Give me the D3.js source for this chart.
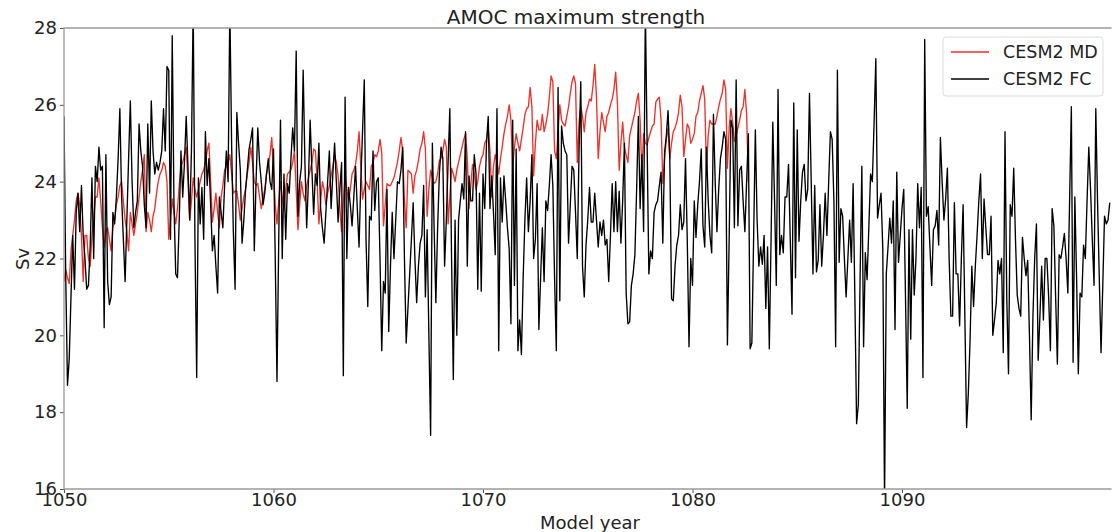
<!DOCTYPE html>
<html>
<head>
<meta charset="utf-8">
<script src="https://cdn.jsdelivr.net/npm/d3@7"></script>
<style>
  body { margin: 0; background: #fff; }
  svg text { font-family: "DejaVu Sans", sans-serif; fill: #222; }
</style>
</head>
<body>
<div id="chart"></div>
<script>
// monthly AMOC max strength (Sv), first month = 1050.0
var start_year = 1050;

var cesm2_md = [
  21.4, 21.7, 21.5, 21.35, 22.2, 22.6, 23.0, 23.5, 23.7, 23.4, 22.6, 21.4,
  22.6, 22.6, 22.0, 21.8, 22.6, 23.0, 23.6, 23.6, 24.1, 23.5, 22.8, 22.3,
  22.7, 22.8, 22.5, 22.2, 22.8, 23.0, 23.4, 23.6, 23.9, 24.0, 23.5, 23.0,
  22.7, 22.2, 23.2, 22.9, 22.6, 22.9, 23.2, 23.6, 24.0, 24.3, 24.7, 22.7,
  23.2, 23.0, 22.7, 23.1, 23.3, 23.7, 24.0, 24.2, 24.3, 24.5, 24.4, 24.0,
  22.5, 23.0, 23.55, 23.2, 22.9, 23.3, 23.9, 24.4, 24.5, 24.7, 24.9, 24.0,
  23.0, 23.5, 24.1, 23.8, 23.6, 23.8, 24.0, 24.2, 24.3, 24.5, 24.8, 25.0,
  24.0, 22.95, 23.3, 23.7, 23.2, 22.8, 23.6, 23.9, 24.3, 24.4, 24.5, 24.7,
  24.2, 23.7, 23.75, 23.75, 23.4, 23.0, 23.3, 23.6, 23.8, 24.2, 24.5, 24.9,
  24.5, 24.0, 23.9, 23.95, 23.6, 23.3, 23.6, 23.8, 24.2, 24.4, 24.7, 25.15,
  24.3, 23.4, 22.9, 23.5, 24.0, 23.6, 23.25, 23.8, 24.2, 24.25, 24.3, 24.5,
  24.8, 23.8, 22.75, 23.4, 24.0, 23.7, 23.5, 23.9, 24.1, 24.3, 24.5, 24.85,
  24.8, 24.0, 22.9, 23.5, 24.0, 23.8, 23.4, 23.7, 23.9, 24.15, 24.4, 24.7,
  24.5, 24.15, 23.3, 22.7, 23.5, 24.15, 23.8, 23.5, 23.8, 24.2, 24.3, 24.45,
  24.8, 25.3, 24.4, 23.55, 23.8, 24.0, 23.9, 23.8, 24.4, 24.5, 24.7, 24.65,
  24.8, 25.1, 24.75, 22.85, 23.4, 23.95, 23.9, 23.9, 24.0, 24.1, 24.3, 24.5,
  24.8, 25.15, 24.8, 23.5, 22.8, 24.3, 24.25, 24.2, 23.7, 24.15, 24.3, 24.55,
  24.85, 25.0, 25.3, 24.85, 23.1, 23.8, 24.3, 24.1, 23.95, 24.0, 24.2, 24.55,
  24.6, 24.8, 25.1, 24.9, 22.9, 23.6, 24.35, 24.2, 24.0, 24.3, 24.5, 24.7,
  24.9, 25.1, 25.25, 24.6, 23.3, 23.9, 24.45, 24.2, 23.8, 24.0, 24.4, 24.6,
  24.7, 25.0, 25.1, 25.4, 24.8, 23.6, 24.4, 24.7, 24.5, 24.2, 24.6, 24.9,
  25.25, 25.5, 25.7, 26.0, 25.6, 24.4, 24.9, 25.25, 25.0, 24.8, 25.1, 25.4,
  25.75, 25.9, 25.95, 26.45, 25.95, 24.15, 25.0, 25.6, 25.35, 25.35, 25.75, 25.3,
  25.5, 25.75, 26.2, 26.75, 26.6, 24.8, 24.6, 25.3, 26.0, 25.6, 25.5, 25.45,
  25.7, 25.95, 26.3, 26.6, 26.75, 26.55, 24.5, 25.55, 25.95, 25.7, 25.3, 25.8,
  25.95, 26.15, 26.1, 26.5, 27.05, 26.2, 24.6, 25.3, 25.8, 25.55, 25.3, 25.7,
  25.8, 26.0, 26.15, 26.4, 26.85, 26.05, 24.3, 25.0, 25.55, 24.9, 24.7, 24.5,
  25.2, 25.4, 25.6, 25.8, 26.1, 26.3, 25.6, 24.25, 25.25, 25.0, 24.95, 25.15,
  25.3, 25.45, 25.5, 26.07, 26.15, 26.2, 25.6, 23.95, 24.6, 25.1, 25.4, 24.6,
  25.0, 25.3, 25.4, 25.55, 25.8, 26.25, 25.95, 24.65, 25.1, 25.5, 25.4, 25.0,
  25.1, 25.25, 25.7, 25.8, 26.1, 26.3, 26.5, 26.15, 24.3, 25.2, 25.6, 25.5,
  25.5, 25.5, 25.7, 25.95, 26.15, 26.3, 26.65, 26.4, 24.35, 25.4, 25.9, 25.55,
  25.05, 25.2, 25.4, 25.6, 25.85, 25.95, 26.4, 25.75, 24.0
];

var cesm2_fc = [
  25.7, 21.5, 18.7, 19.4, 21.0, 22.6, 21.2, 23.2, 23.7, 22.7, 23.9, 22.6,
  22.0, 21.2, 21.3, 22.3, 24.1, 22.0, 24.4, 24.0, 24.9, 24.3, 24.4, 20.2,
  24.7, 21.4, 20.8, 21.0, 23.2, 22.9, 23.6, 24.6, 25.9, 23.6, 22.5, 21.4,
  23.0, 24.6, 26.1, 24.0, 22.8, 23.2, 23.5, 25.5, 24.8, 24.4, 23.4, 22.8,
  25.5, 23.7, 26.1, 24.8, 24.2, 24.5, 24.3, 24.5, 24.8, 25.9, 24.8, 27.0,
  26.9, 22.5, 27.8, 23.4, 21.6, 21.5, 23.0, 24.8, 23.6, 24.5, 25.7, 24.4,
  23.0, 24.8, 28.6, 22.5, 18.9, 24.1, 22.9, 23.85, 22.5, 25.3, 23.9, 24.6,
  23.4, 22.2, 22.6, 21.8, 21.1, 23.6, 23.2, 22.8, 23.9, 24.8, 24.0, 28.6,
  25.0, 22.7, 21.2, 25.8, 25.0, 24.3, 22.4, 23.0, 23.8, 24.3, 24.85, 25.1,
  25.4, 22.2, 24.0, 25.4, 24.5, 24.0, 23.4, 23.7, 24.2, 24.6, 24.0, 23.8,
  24.85, 22.0, 18.8, 22.5, 25.6, 22.0, 24.2, 22.5, 23.95, 23.7, 24.6, 25.4,
  24.8, 27.4, 23.1, 24.0, 24.4, 26.9, 24.5, 22.8, 24.0, 25.6, 24.3, 23.15,
  24.2, 23.9, 25.0, 23.3, 22.8, 22.4, 23.2, 24.0, 24.8, 23.3, 24.2, 25.0,
  24.0, 22.95, 23.8, 24.5, 18.95, 26.2, 22.0, 23.85, 23.4, 22.85, 23.6, 24.4,
  23.3, 22.3, 24.0, 25.3, 26.65, 22.5, 20.75, 23.1, 23.0, 24.8, 23.25, 24.0,
  24.1, 22.0, 19.6, 21.4, 21.1, 23.8, 20.1, 21.8, 23.2, 22.0, 23.0, 24.0,
  23.95, 24.3, 24.9, 22.0, 19.8, 20.7, 21.6, 22.5, 23.45, 22.0, 20.85, 21.8,
  22.4, 22.6, 23.9, 21.0, 22.75, 20.0, 17.4, 25.0, 22.8, 20.85, 22.8, 24.2,
  24.9, 24.6, 21.8, 23.0, 24.5, 25.9, 22.0, 18.85, 23.0, 20.0, 23.0, 23.5,
  23.95, 23.55, 25.3, 21.8, 24.15, 23.5, 23.5, 24.7, 24.2, 21.2, 23.7, 21.15,
  24.2, 23.3, 25.0, 25.7, 23.3, 24.15, 23.2, 22.1, 25.9, 19.6, 24.1, 22.95,
  24.15, 23.5, 22.8, 22.25, 20.3, 25.6, 21.3, 24.85, 19.6, 20.4, 19.5, 21.5,
  23.0, 24.1, 22.7, 23.5, 24.7, 22.0, 22.5, 23.95, 20.15, 21.5, 22.8, 21.4,
  23.5, 23.25, 23.9, 24.7, 23.9, 21.5, 19.6, 26.45, 20.9, 25.45, 25.0, 24.8,
  24.7, 22.4, 23.4, 24.4, 24.3, 23.2, 22.0, 24.8, 26.6, 21.8, 21.0, 22.35,
  23.0, 23.85, 22.95, 22.95, 23.7, 23.0, 22.3, 22.95, 22.6, 23.0, 22.35, 22.5,
  21.4, 22.6, 23.95, 22.7, 24.0, 22.7, 23.75, 22.4, 23.5, 25.0, 21.1, 20.3,
  20.35, 21.3, 21.6, 22.1, 23.8, 25.7, 23.3, 24.7, 22.7, 28.5, 25.0, 21.6,
  22.2, 22.0, 23.2, 23.4, 23.5, 23.9, 24.25, 22.4, 24.75, 25.2, 25.85, 24.6,
  20.95, 20.9, 21.8, 22.35, 22.6, 23.4, 22.75, 22.95, 24.6, 22.5, 19.7, 22.0,
  21.3, 23.5, 22.55, 23.4, 24.0, 24.85, 22.85, 22.3, 24.9, 23.5, 22.6, 22.15,
  25.75, 24.0, 22.7, 23.8, 24.6, 24.9, 25.3, 25.1, 19.75, 22.5, 25.6, 25.4,
  22.8, 26.65, 22.85, 24.3, 24.4, 23.5, 22.7, 24.0, 25.25, 19.65, 19.8, 22.5,
  25.35, 23.0, 21.8, 22.3, 21.85, 22.6, 20.7, 22.3, 19.65, 22.5, 25.55, 23.5,
  21.3, 26.4, 22.1, 22.6, 22.15, 23.6, 23.6, 24.45, 22.5, 20.55, 26.05, 21.5,
  25.35, 22.45, 23.5, 24.25, 24.45, 23.5, 23.8, 26.3, 24.0, 21.6, 23.9, 21.65,
  21.95, 23.4, 21.8, 22.6, 23.7, 22.6, 24.0, 25.3, 25.1, 23.5, 19.7, 26.9,
  21.9, 23.3, 23.1, 22.0, 21.0, 22.0, 23.0, 21.9, 23.95, 21.0, 17.7, 18.2,
  21.5, 24.4, 19.7, 22.15, 21.45, 22.8, 24.2, 24.0, 25.5, 27.2, 23.05, 23.4,
  23.7, 22.25, 15.6, 21.6, 22.3, 23.05, 22.4, 23.5, 20.15, 24.25, 21.9, 22.6,
  23.3, 23.8, 21.0, 18.1, 22.75, 19.9, 22.75, 21.05, 22.0, 23.95, 22.8, 23.85,
  18.9, 27.7, 23.1, 23.35, 22.3, 21.3, 22.75, 22.85, 23.25, 22.35, 25.15, 24.0,
  23.0, 23.55, 24.35, 22.0, 20.5, 20.5, 23.45, 21.6, 21.6, 20.25, 22.0, 23.4,
  20.5, 17.6, 18.5, 19.9, 21.8, 20.75, 21.8, 22.6, 23.5, 24.2, 22.0, 23.55,
  22.8, 22.1, 22.1, 23.1, 20.0, 20.4, 20.85, 21.95, 21.6, 22.0, 19.55, 25.3,
  21.0, 19.0, 23.4, 23.1, 24.35, 22.5, 21.05, 20.7, 20.5, 22.55, 22.0, 21.55,
  21.95, 20.0, 17.8, 20.5, 22.0, 22.9, 19.35, 20.5, 21.8, 20.4, 22.0, 22.0,
  21.0, 19.6, 23.3, 22.85, 21.0, 19.25, 22.1, 22.0, 22.3, 22.65, 22.0, 21.1,
  23.5, 25.95, 19.3, 23.6, 21.5, 19.0, 21.1, 21.0, 22.35, 22.0, 23.5, 24.9,
  23.8, 22.5, 21.3, 25.9, 23.5, 21.5, 19.55, 21.3, 23.1, 22.9, 23.0, 23.45
];

var x_ticks = [1050, 1060, 1070, 1080, 1090];
var y_ticks = [16, 18, 20, 22, 24, 26, 28];

var series = [
  {name: "CESM2 MD", values: cesm2_md, color: "#f0302a"},
  {name: "CESM2 FC", values: cesm2_fc, color: "#000"}
];

//setup
var width = 1112, height = 532;
var margin = {top: 28, right: 0, bottom: 43, left: 64};

var svg = d3.select("#chart")
  .append("svg")
  .attr("width", width)
  .attr("height", height);

var x = d3.scaleLinear()
  .domain([1050, 1100])
  .range([margin.left, 1111.5]);

var y = d3.scaleLinear()
  .domain([16, 28])
  .range([height - margin.bottom, margin.top]);

svg.append("clipPath")
  .attr("id", "plot-clip")
  .append("rect")
  .attr("x", margin.left)
  .attr("y", margin.top)
  .attr("width", x(1100) - margin.left)
  .attr("height", y(16) - margin.top);

var line = d3.line()
  .x(function(d, i) { return x(start_year + i / 12); })
  .y(function(d) { return y(d); });

//lines
svg.append("g")
  .attr("clip-path", "url(#plot-clip)")
  .selectAll("path")
  .data(series)
  .enter()
  .append("path")
  .attr("d", function(s) { return line(s.values); })
  .attr("fill", "none")
  .attr("stroke", function(s) { return s.color; })
  .attr("stroke-width", 1.35)
  .attr("stroke-linejoin", "round");

//axes
var x_axis = svg.append("g")
  .attr("transform", "translate(0," + y(16) + ")")
  .call(d3.axisBottom(x).tickValues(x_ticks).tickSize(4).tickPadding(0).tickFormat(d3.format("d")));

var y_axis = svg.append("g")
  .attr("transform", "translate(" + margin.left + ",0)")
  .call(d3.axisLeft(y).tickValues(y_ticks).tickSize(4).tickPadding(3));

[x_axis, y_axis].forEach(function(a) {
  a.select(".domain").remove();
  a.selectAll("line").attr("stroke", "#555");
  a.selectAll("text").style("font-size", "18px").style("font-family", "DejaVu Sans").attr("fill", "#222");
});

//frame
svg.append("path")
  .attr("d", "M" + x(1100) + "," + margin.top + "H" + margin.left + "V" + y(16) + "H" + x(1100))
  .attr("fill", "none")
  .attr("stroke", "#9a9a9a")
  .attr("stroke-width", 1.3);

//labels
svg.append("text")
  .attr("x", 576)
  .attr("y", 24)
  .attr("text-anchor", "middle")
  .style("font-size", "20px")
  .text("AMOC maximum strength");

svg.append("text")
  .attr("x", 590)
  .attr("y", 529)
  .attr("text-anchor", "middle")
  .style("font-size", "18px")
  .text("Model year");

svg.append("text")
  .attr("transform", "translate(29,259) rotate(-90)")
  .attr("text-anchor", "middle")
  .style("font-size", "18px")
  .text("Sv");

//legend
var legend = svg.append("g").attr("transform", "translate(943,37)");

legend.append("rect")
  .attr("width", 160)
  .attr("height", 59)
  .attr("rx", 3)
  .attr("fill", "#fff")
  .attr("fill-opacity", 0.8)
  .attr("stroke", "#ddd");

var items = legend.selectAll("g.item")
  .data(series)
  .enter()
  .append("g")
  .attr("class", "item")
  .attr("transform", function(d, i) { return "translate(0," + (15 + i * 27) + ")"; });

items.append("line")
  .attr("x1", 8).attr("x2", 46)
  .attr("stroke", function(d) { return d.color; })
  .attr("stroke-width", 1.4);

items.append("text")
  .attr("x", 60)
  .attr("dy", "0.35em")
  .style("font-size", "17.5px")
  .text(function(d) { return d.name; });
</script>
</body>
</html>
